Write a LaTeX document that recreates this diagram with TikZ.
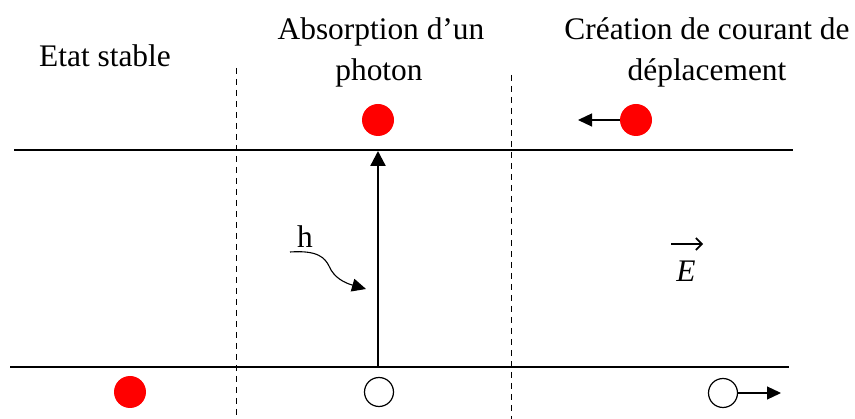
\documentclass[tikz,border=0pt]{standalone}
\usepackage{fontspec}
\setmainfont{Liberation Serif}
\usetikzlibrary{arrows.meta}
\definecolor{dotred}{RGB}{255,0,0}
\begin{document}
\begin{tikzpicture}[x=1pt,y=-1pt,
  band/.style={line width=2.3pt},
  sep/.style={line width=0.9pt,dash pattern=on 6pt off 5pt},
  lbl/.style={anchor=base,inner sep=0pt,font=\fontsize{31.4}{41}\selectfont},
  electron/.style={circle,fill=dotred,minimum width=31pt,minimum height=32pt,inner sep=0pt},
  hole/.style={circle,draw,line width=1.2pt,minimum size=29pt,inner sep=0pt},
  bigtip/.style={-{Triangle[length=15pt,width=15pt]}},
  smalltip/.style={-{Triangle[length=14pt,width=13pt]}}]
\useasboundingbox (0,0) rectangle (855,419);
% bands
\coordinate (cbL) at (14,150); \coordinate (cbR) at (793,150);
\coordinate (vbL) at (10,367); \coordinate (vbR) at (789,367);
\draw[band] (cbL) -- (cbR);
\draw[band] (vbL) -- (vbR);
% separators
\coordinate (s1t) at (236,68); \coordinate (s1b) at (236,419);
\coordinate (s2t) at (511,75); \coordinate (s2b) at (511,419);
\draw[sep] (s1t) -- (s1b);
\draw[sep] (s2t) -- (s2b);
% titles
\node[lbl] (t1) at (105,67) {Etat stable};
\node[lbl] (t2a) at (381,40) {Absorption d’un};
\node[lbl] (t2b) at (379,81) {photon};
\node[lbl] (t3a) at (707,40) {Création de courant de};
\node[lbl] (t3b) at (707,81) {déplacement};
% stable state
\node[electron] (e1) at (130,392) {};
% absorption
\node[electron] (e2) at (378,120) {};
\node[hole] (h2) at (379,392) {};
\coordinate (vup0) at (378,367); \coordinate (vup1) at (378,151);
\draw[line width=2.3pt,bigtip] (vup0) -- (vup1);
\node[lbl] (hnu) at (305,248) {h};
\coordinate (w0) at (290,252); \coordinate (w1) at (366,289);
\draw[line width=1.1pt,smalltip] (w0) .. controls (318,250) and (325,258) .. (329,266)
  .. controls (334,278) and (345,283) .. (w1);
% drift current
\node[electron] (e3) at (636,120) {};
\coordinate (a3) at (578,120);
\draw[line width=1.2pt,smalltip] (e3.west) -- (a3);
\node[hole] (h3) at (723,393) {};
\coordinate (a4) at (781,393);
\draw[line width=1.2pt,smalltip] (h3.east) -- (a4);
% field
\node[lbl,font=\fontsize{31.4}{41}\selectfont\itshape] (E) at (686,282) {E};
\coordinate (f0) at (671,244); \coordinate (f1) at (703,244);
\draw[line width=1.6pt,-{Straight Barb[length=6pt,width=12pt]}] (f0) -- (f1);
\end{tikzpicture}
\end{document}
